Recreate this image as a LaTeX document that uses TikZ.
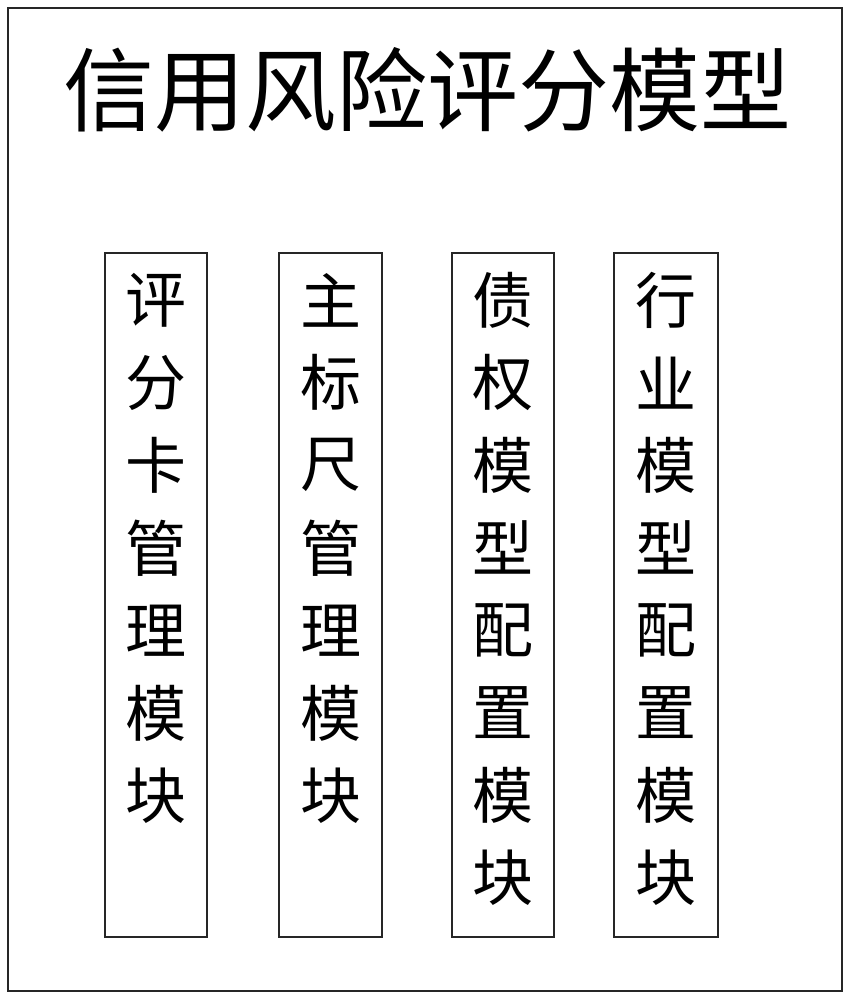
\documentclass[tikz,border=0pt]{standalone}
\usepackage{fontspec}
\newfontfamily\cjk{Noto Sans CJK SC}
\begin{document}
\begin{tikzpicture}[x=1pt,y=-1pt,
  frame/.style={draw=black!85,line width=1.6pt},
  modbox/.style={draw=black!85,line width=1.4pt},
  ch/.style={font=\cjk\fontsize{61}{61}\selectfont,inner sep=0pt,anchor=center}]
\useasboundingbox (0,0) rectangle (850,1000);
\draw[frame] (8,8) rectangle (842,991);
\node[font=\cjk\fontsize{91}{91}\selectfont,inner sep=0pt] (title) at (427,90) {信用风险评分模型};
\foreach \name/\xl/\xr/\txt [count=\i] in {
  m1/105/207/{评,分,卡,管,理,模,块},
  m2/279/382/{主,标,尺,管,理,模,块},
  m3/452/554/{债,权,模,型,配,置,模,块},
  m4/614/718/{行,业,模,型,配,置,模,块}}{
  \draw[modbox] (\xl,253) rectangle (\xr,937);
  \foreach \c [count=\j] in \txt {
    \node[ch] (\name c\j) at ({(\xl+\xr)/2},{300+82.6*(\j-1)}) {\c};
  }
}
\end{tikzpicture}
\end{document}
